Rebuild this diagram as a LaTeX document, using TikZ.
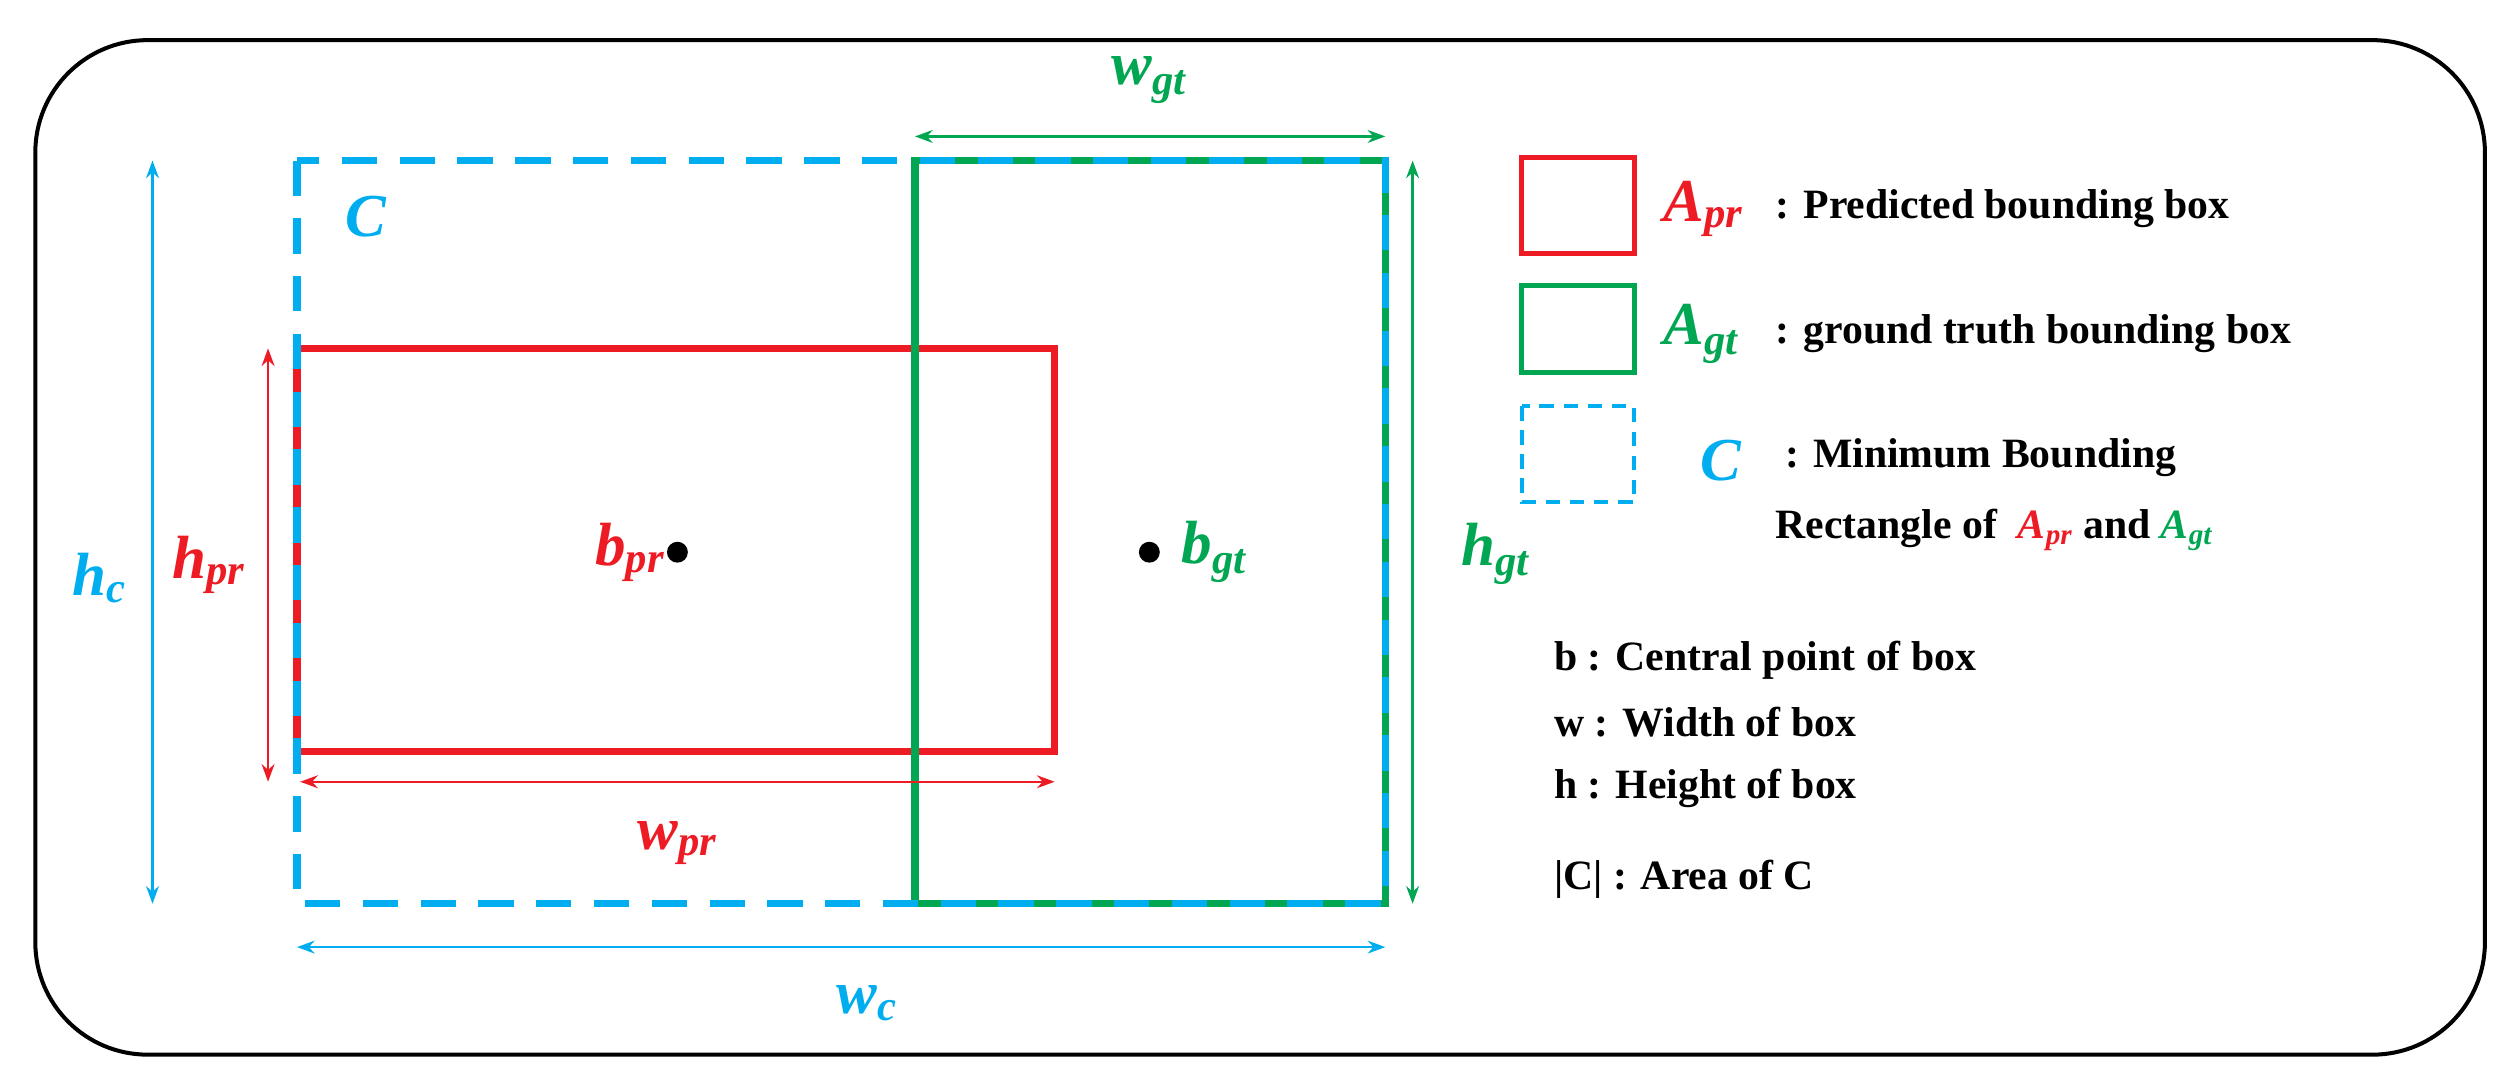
\documentclass[tikz,border=0pt]{standalone}
\usepackage{fontspec}
\setmainfont{Liberation Serif}
\usetikzlibrary{arrows.meta}
\definecolor{cr}{RGB}{237,28,36}
\definecolor{cb}{RGB}{0,174,239}
\definecolor{cg}{RGB}{0,166,81}
\newcommand{\lab}[2]{\textbf{\textit{#1}}\textsubscript{\textbf{\textit{#2}}}}
\begin{document}
\begin{tikzpicture}[x=1pt,y=-1pt,
 box/.style={line width=4.5pt},
 dim/.style={line width=1.5pt,{Stealth[length=11pt,width=8pt]}-{Stealth[length=11pt,width=8pt]}},
 big/.style={font=\fontsize{38}{42}\selectfont},
 leg/.style={font=\fontsize{26}{30}\selectfont\bfseries,anchor=west,align=left,inner sep=0pt},
 dot/.style={circle,fill=black,inner sep=0pt,minimum size=13pt}]
\useasboundingbox (0,0) rectangle (1568,680);
\draw[line width=2.5pt,rounded corners=70pt] (22,25) rectangle (1548,657);
% boxes
\draw[box,cr] (185,217) rectangle (657,468);
\draw[box,cg] (570,100) rectangle (863,563);
\draw[box,cb,dash pattern=on 22pt off 14pt] (185,100) rectangle (863,563);
\node[dot] (bp) at (422,344) {};
\node[dot] (bg) at (716,344) {};
\node[big,cr,anchor=east,inner sep=1pt] (bpl) at (bp.west) {\lab{b}{pr}};
\node[big,cg,anchor=west] (bgl) at ([xshift=10pt]bg.east) {\lab{b}{gt}};
\node[big,cb] (cl) at (228,135) {\textbf{\textit{C}}};
% dimension arrows
\coordinate (hc1) at (95,100); \coordinate (hc2) at (95,563);
\draw[dim,cb] (hc1) -- (hc2);
\node[big,cb] (hcl) at (62,360) {\lab{h}{c}};
\coordinate (hp1) at (167,217); \coordinate (hp2) at (167,487);
\draw[dim,cr] (hp1) -- (hp2);
\node[big,cr] (hpl) at (130,352) {\lab{h}{pr}};
\coordinate (wp1) at (187,487); \coordinate (wp2) at (657,487);
\draw[dim,cr] (wp1) -- (wp2);
\node[big,cr] (wpl) at (422,525) {\lab{w}{pr}};
\coordinate (wc1) at (185,590); \coordinate (wc2) at (863,590);
\draw[dim,cb] (wc1) -- (wc2);
\node[big,cb] (wcl) at (540,625) {\lab{w}{c}};
\coordinate (wg1) at (570,85); \coordinate (wg2) at (863,85);
\draw[dim,cg] (wg1) -- (wg2);
\node[big,cg] (wgl) at (716,50) {\lab{w}{gt}};
\coordinate (hg1) at (880,100); \coordinate (hg2) at (880,563);
\draw[dim,cg] (hg1) -- (hg2);
\node[big,cg] (hgl) at (932,345) {\lab{h}{gt}};
% legend
\draw[line width=3pt,cr] (948,98) rectangle (1018,158);
\draw[line width=3pt,cg] (948,178) rectangle (1018,232);
\draw[line width=2.5pt,cb,dash pattern=on 9pt off 6pt] (948,253) rectangle (1018,313);
\node[big,cr,anchor=west,inner sep=0pt] (l1) at (1036,130) {\lab{A}{pr}};
\node[leg] (t1) at (1106,130) {: Predicted bounding box};
\node[big,cg,anchor=west,inner sep=0pt] (l2) at (1036,208) {\lab{A}{gt}};
\node[leg] (t2) at (1106,208) {: ground truth bounding box};
\node[big,cb] (l3) at (1072,287) {\textbf{\textit{C}}};
\node[leg] (t3) at (1112,285) {: Minimum Bounding};
\node[leg] (t4) at (1106,330) {Rectangle of \ {\color{cr}\lab{A}{pr}} and {\color{cg}\lab{A}{gt}}};
\node[leg] (t5) at (968,411) {b : Central point of box};
\node[leg] (t6) at (968,450) {w : Width of box};
\node[leg] (t7) at (968,491) {h : Height of box};
\node[leg] (t8) at (968,548) {|C| : Area of C};
\end{tikzpicture}
\end{document}
